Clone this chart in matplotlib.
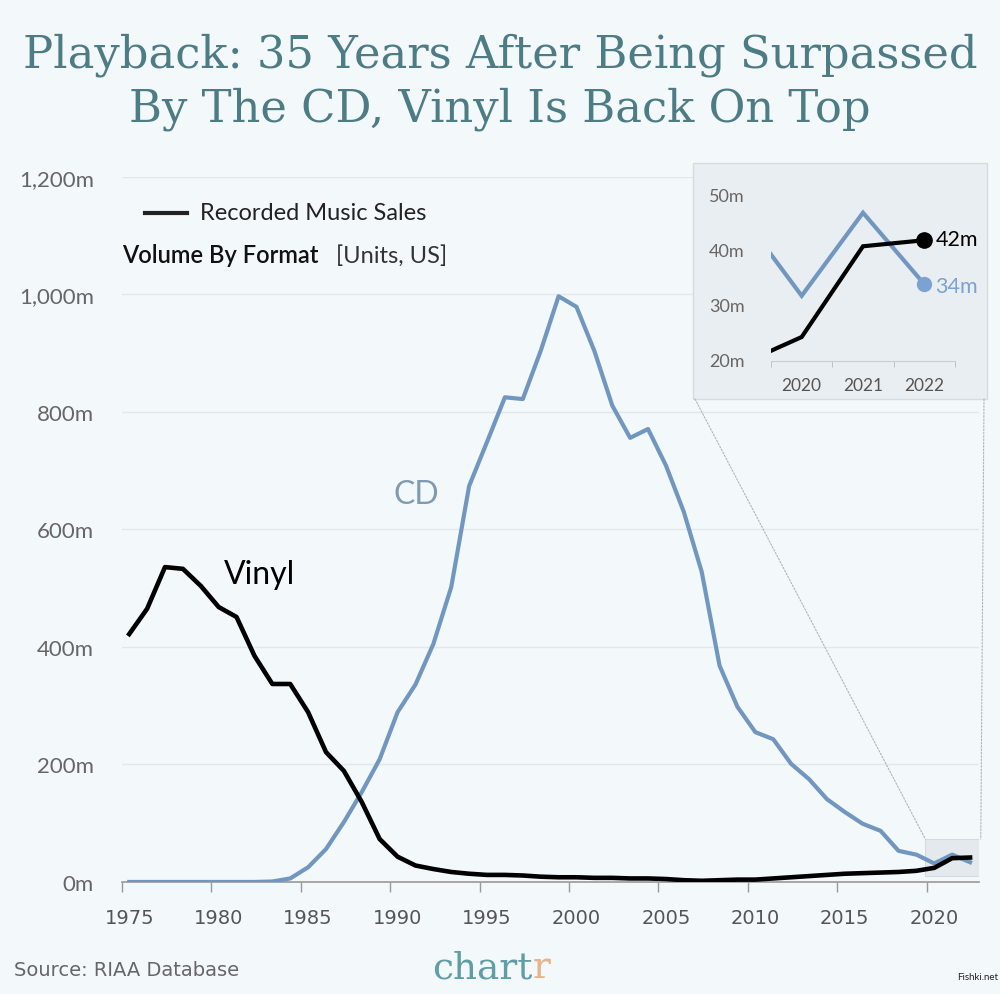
import numpy as np
import matplotlib.pyplot as plt
from matplotlib.patches import Rectangle, ConnectionPatch
from matplotlib.lines import Line2D

# 数据 (RIAA, 百万张)
years = list(range(1975, 2023))
vinyl = [422, 465, 536, 533, 504, 468, 451, 385, 337, 337,
         289, 221, 189, 136, 73, 43, 28, 22, 17, 14,
         12, 12, 11, 9, 8, 8, 7, 7, 6, 6,
         5, 3, 2, 3, 4, 4, 6, 8, 10, 12,
         14, 15, 16, 17, 19, 24, 40.5, 41.6]
cd = [0, 0, 0, 0, 0, 0, 0, 0, 0.8, 6,
      25, 56, 102, 153, 209, 289, 336, 405, 502, 674,
      749, 825, 822, 904, 997, 979, 904, 811, 756, 771,
      709, 630, 528, 368, 298, 255, 243, 201, 175, 141,
      119, 99, 87, 53, 46.5, 31.5, 46.6, 33.6]
x_ticks = [1975, 1980, 1985, 1990, 1995, 2000, 2005, 2010, 2015, 2020]
y_ticks = [0, 200, 400, 600, 800, 1000, 1200]
y_labels = ['0m', '200m', '400m', '600m', '800m', '1,000m', '1,200m']
inset_years = [2020, 2021, 2022]
inset_yticks = [20, 30, 40, 50]

BG = '#f3f8fa'
BLUE = '#7197c0'
TEAL = '#4d7c85'
GRAY = '#666666'

plt.rcParams['font.family'] = ['Lato', 'DejaVu Sans']

fig = plt.figure(figsize=(10, 9.95), dpi=100, facecolor=BG)

# 标题
fig.text(0.5, 0.917, 'Playback: 35 Years After Being Surpassed\nBy The CD, Vinyl Is Back On Top',
         ha='center', va='center', fontsize=32.3, color=TEAL, family='DejaVu Serif',
         linespacing=1.3)

# 主图
ax = fig.add_axes([0.1217, 0.1126, 0.8573, 0.7085])
ax.set_facecolor(BG)
ax.plot(years, cd, color=BLUE, lw=3.0, solid_joinstyle='round', zorder=3)
ax.plot(years, vinyl, color='black', lw=3.3, solid_joinstyle='round', zorder=4)
ax.set_xlim(1974.58, 2022.5)
ax.set_ylim(0, 1200)
ax.set_yticks(y_ticks)
ax.set_yticklabels(y_labels)
ax.set_xticks(x_ticks)
ax.set_xticks([t - 0.42 for t in x_ticks], minor=True)
ax.tick_params(axis='x', which='major', length=0, pad=19, labelsize=14, labelcolor='#555555')
ax.tick_params(axis='x', which='minor', length=7, color='#999999', width=1)
for lab in ax.get_xticklabels():
    lab.set_family('DejaVu Sans')
ax.tick_params(axis='y', length=0, pad=20, labelsize=16, labelcolor=GRAY)
ax.grid(axis='y', color='#e3e8ea', lw=1)
for s in ['left', 'right', 'top']:
    ax.spines[s].set_visible(False)
ax.spines['bottom'].set_color('#999999')
ax.spines['bottom'].set_linewidth(1.2)
ax.set_axisbelow(True)

ax.text(1980.3, 525, 'Vinyl', fontsize=23, color='black', ha='left', va='center')
ax.text(1989.75, 661, 'CD', fontsize=23, color='#7f9bb0', ha='left', va='center')

# 放大区域框
ax.add_patch(Rectangle((2019.5, 10), 3.1, 63, facecolor='#e4e9ed', edgecolor='#d5dade',
                       lw=0.8, zorder=2))

# 图例文字
fig.add_artist(Line2D([0.145, 0.187], [0.785, 0.785], color='#222222', lw=3))
fig.text(0.200, 0.785, 'Recorded Music Sales', fontsize=17, color='#222222', va='center')
fig.text(0.122, 0.743, 'Volume By Format', fontsize=17, color='#111111', va='center',
         weight='semibold')
fig.text(0.336, 0.743, '[Units, US]', fontsize=17, color='#333333', va='center')

# 插图
box = Rectangle((0.693, 0.598), 0.294, 0.2372, transform=fig.transFigure,
                facecolor='#e9eef2', edgecolor='#d6dbdf', lw=1, zorder=0.5)
fig.add_artist(box)
iax = fig.add_axes([0.771, 0.6365, 0.184, 0.1675])
iax.set_zorder(2)
iax.patch.set_alpha(0)
iax.plot(years, cd, color=BLUE, lw=3.0, solid_joinstyle='miter', zorder=3)
iax.plot(years, vinyl, color='black', lw=3.0, solid_joinstyle='miter', zorder=4)
iax.plot([2022], [cd[-1]], 'o', color='#7ba2d3', ms=10, zorder=5, clip_on=False)
iax.plot([2022], [vinyl[-1]], 'o', color='black', ms=11, zorder=6, clip_on=False)
iax.text(2022.18, vinyl[-1] + 0.3, '%dm' % round(vinyl[-1]), fontsize=15.5, color='black', va='center')
iax.text(2022.18, cd[-1] - 0.4, '%dm' % round(cd[-1]), fontsize=15.5, color='#7ba2d3', va='center')
iax.set_xlim(2019.5, 2022.5)
iax.set_ylim(19.7, 50)
iax.set_xticks(inset_years)
iax.set_xticks([2019.5, 2020.5, 2021.5, 2022.5], minor=True)
iax.set_yticks(inset_yticks)
iax.set_yticklabels(['%dm' % v for v in inset_yticks])
iax.tick_params(axis='x', which='major', length=0, pad=12, labelsize=12.5, labelcolor='#555555')
iax.tick_params(axis='x', which='minor', length=4, color='#bbbbbb')
iax.tick_params(axis='y', length=0, pad=19, labelsize=13, labelcolor=GRAY)
for s in ['left', 'right', 'top']:
    iax.spines[s].set_visible(False)
iax.spines['bottom'].set_color('#c8cdd1')

# 连接虚线
for xa, ya, xb in [(0.695, 0.598, 2019.5), (0.984, 0.598, 2022.6)]:
    con = ConnectionPatch(xyA=(xa, ya), coordsA=fig.transFigure, xyB=(xb, 73),
                          coordsB=ax.transData, color='#b0b5b8', lw=0.8, ls=(0, (1.5, 1.5)))
    fig.add_artist(con)

# 页脚
fig.text(0.014, 0.025, 'Source: RIAA Database', fontsize=14, color=GRAY, va='center',
         family='DejaVu Sans')
logo = fig.text(0.432, 0.027, 'chart', fontsize=27, color='#5f9ea6', va='center',
                family='DejaVu Serif')
plt.annotate('r', xy=(1, 0), xycoords=logo, va='bottom', ha='left', fontsize=27,
             color='#e5b48c', family='DejaVu Serif', annotation_clip=False)
fig.text(0.998, 0.018, 'Fishki.net', fontsize=7, color='#222222', ha='right', va='center')

fig.savefig('out.png', dpi=100, facecolor=BG)
